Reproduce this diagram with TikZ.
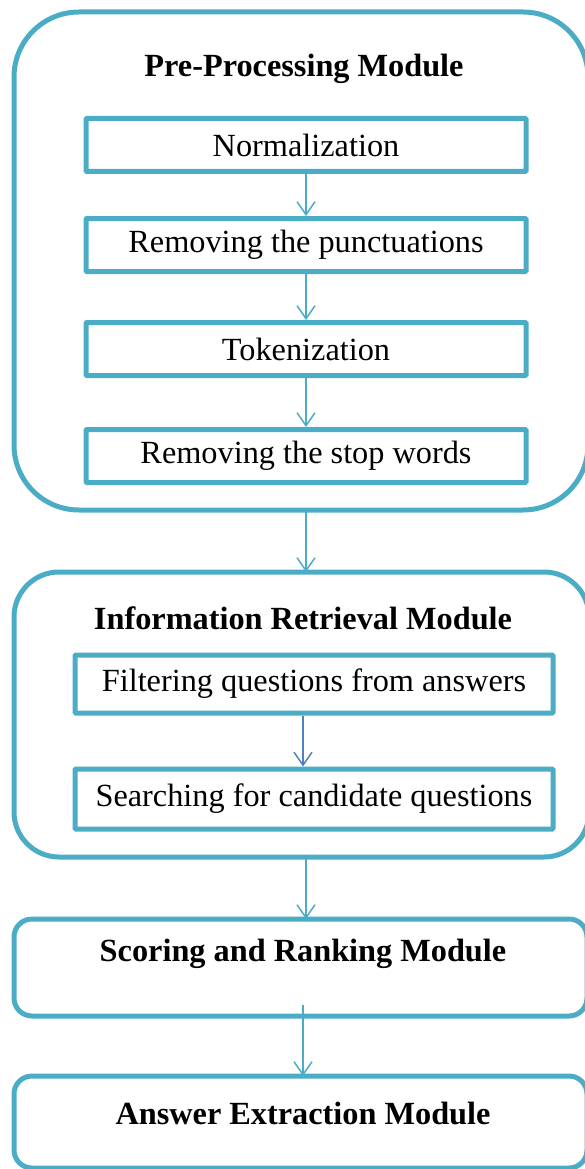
\documentclass[tikz,border=0pt]{standalone}
\usepackage{fontspec}
\setmainfont{Liberation Serif}
\usetikzlibrary{arrows.meta}
\definecolor{teal}{HTML}{4BACC6}
\definecolor{darkblue}{HTML}{4F81BD}
\begin{document}
\begin{tikzpicture}[x=1pt,y=-1pt,
  module/.style={draw=teal,line width=5pt},
  stepbox/.style={draw=teal,line width=5pt,minimum width=#1,minimum height=53pt,inner sep=0pt,rounded corners=1pt,font=\fontsize{32.3}{32}\selectfont},
  title/.style={font=\fontsize{32.3}{32}\selectfont\bfseries,inner sep=0pt},
  conn/.style={draw=teal,line width=1.5pt,-{Straight Barb[length=13pt,width=18pt,line width=1.5pt]}},
]
\useasboundingbox (0,0) rectangle (585,1169);
\begin{scope}
\clip (0,0) rectangle (585,1169);
% module outlines
\draw[module,rounded corners=65pt] (14,12) rectangle (588,510);
\draw[module,rounded corners=45pt] (14,572) rectangle (589,857);
\draw[module,rounded corners=18pt] (14,919) rectangle (587,1016);
\draw[module,rounded corners=18pt] (14,1076) rectangle (587,1168);
\coordinate (m1b) at (306,510);
\coordinate (m2t) at (306,572);
\coordinate (m2b) at (306,857);
\coordinate (m3t) at (306,919);
\coordinate (m3s) at (303,1005);
\coordinate (m4t) at (303,1076);
\end{scope}
\node[title] (t1) at (304,69) {Pre-Processing Module};
\node[stepbox=440pt] (n1) at (306,145) {Normalization};
\node[stepbox=440pt] (n2) at (306,245) {Removing the punctuations};
\node[stepbox=440pt] (n3) at (306,349) {Tokenization};
\node[stepbox=440pt] (n4) at (306,456) {Removing the stop words};
\node[title] (t2) at (303,618) {Information Retrieval Module};
\node[stepbox=478pt,minimum height=58pt] (f1) at (314,684) {Filtering questions from answers};
\node[stepbox=478pt,minimum height=60pt] (f2) at (314,799) {Searching for candidate questions};
\node[title] (t3) at (303,954) {Scoring and Ranking Module};
\node[title] (t4) at (303,1113) {Answer Extraction Module};
\draw[conn] (n1.south -| 306,0) -- (n2.north -| 306,0);
\draw[conn] (n2.south -| 306,0) -- (n3.north -| 306,0);
\draw[conn] (n3.south -| 306,0) -- (n4.north -| 306,0);
\draw[conn] (m1b) -- (m2t);
\draw[conn,draw=darkblue,-{Straight Barb[length=13pt,width=18pt,line width=1.5pt]}] (f1.south -| 303,0) -- (f2.north -| 303,0);
\draw[conn] (m2b) -- (m3t);
\draw[conn] (m3s) -- (m4t);
\end{tikzpicture}
\end{document}
